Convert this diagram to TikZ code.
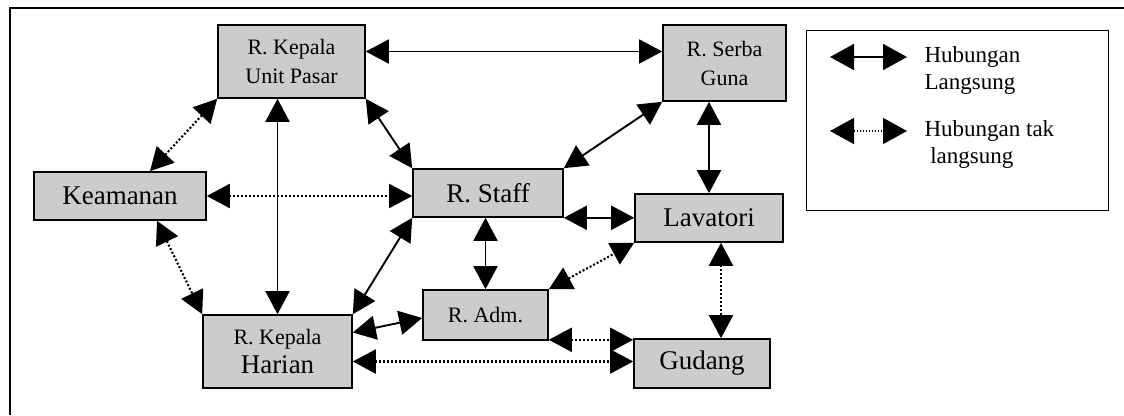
\documentclass[tikz,border=0pt]{standalone}
\usepackage{fontspec}
\setmainfont{Liberation Serif}
\usetikzlibrary{arrows.meta,positioning,calc}

\begin{document}
\begin{tikzpicture}[
  x=1pt, y=-1pt,
  room/.style={draw, line width=1.6pt, fill=black!20, align=center, inner sep=0pt},
  big/.style={font=\fontsize{27}{30}\selectfont},
  small/.style={font=\fontsize{22}{29}\selectfont},
  link/.style={arrows={Triangle[length=23pt,width=24pt]-Triangle[length=23pt,width=24pt]}, line width=1.9pt},
  weak/.style={link, line width=2.1pt, dash pattern=on 2pt off 2pt},
  keylink/.style={arrows={Triangle[length=24pt,width=26pt]-Triangle[length=24pt,width=26pt]}, line width=1.8pt},
  keytext/.style={anchor=west, align=left, font=\fontsize{23}{27}\selectfont}
]
\useasboundingbox (0,0) rectangle (1124,415);

% frame
\draw[line width=1.8pt] (10,415) -- (10,8) -- (1124,8);

% rooms
\node[room, small, minimum width=147pt, minimum height=73pt] (kup) at (291.5,61.5) {R. Kepala\\Unit Pasar};
\node[room, small, minimum width=123pt, minimum height=76pt] (serba) at (724.5,63) {R. Serba\\Guna};
\node[room, big, minimum width=172pt, minimum height=48pt] (keamanan) at (120,196) {Keamanan};
\node[room, big, minimum width=150pt, minimum height=48pt] (staff) at (488,193) {R. Staff};
\node[room, big, minimum width=148pt, minimum height=48pt] (lavatori) at (709,218) {Lavatori};
\node[room, small, minimum width=125pt, minimum height=50pt] (adm) at (485.5,315) {R. Adm.};
\node[room, small, minimum width=149pt, minimum height=73pt] (harian) at (277.5,351.5) {R. Kepala\\{\fontsize{27}{29}\selectfont Harian}};
\node[room, big, minimum width=136pt, minimum height=49pt] (gudang) at (702,363.5) {Gudang};

% direct links
\draw[link] ([yshift=10pt]kup.east) -- ([yshift=10pt]kup.east -| serba.west);
\draw[link] (harian.north |- kup.south) -- (harian.north);
\draw[link] (kup.south east) -- (staff.north west);
\draw[link] (harian.north east) -- (staff.south west);
\draw[link] ([yshift=19pt]harian.east) -- ([yshift=-3pt]adm.west);
\draw[link] (adm.north |- staff.south) -- (adm.north);
\draw[link] (staff.south east) -- (staff.south east -| lavatori.west);
\draw[link] (staff.north east) -- (serba.south west);
\draw[link] (lavatori.north |- serba.south) -- (lavatori.north);

% indirect links
\draw[weak] (kup.south west) -- ([xshift=30pt]keamanan.north);
\draw[weak] (keamanan.east) -- (keamanan.east -| staff.west);
\draw[weak] ([xshift=37pt]keamanan.south) -- (harian.north west);
\draw[weak] ([yshift=-10pt]harian.east) -- ([yshift=-10pt]harian.east -| gudang.west);
\draw[weak] ([yshift=1pt]adm.south east) -- ([yshift=1pt]adm.south east -| gudang.west);
\draw[weak] (adm.north east) -- (lavatori.south west);
\draw[weak] ([xshift=12pt]lavatori.south) -- ([xshift=12pt]lavatori.south |- gudang.north);

% legend
\node[draw, line width=1pt, minimum width=302pt, minimum height=180pt] (legend) at (957,120) {};
\coordinate (solidA) at (830,57);
\coordinate (solidB) at (907,57);
\coordinate (dotA) at (830,131);
\coordinate (dotB) at (907,131);
\draw[keylink] (solidA) -- (solidB);
\draw[keylink, line width=1.4pt, dash pattern=on 1.5pt off 1.5pt] (dotA) -- (dotB);
\node[keytext] (keydirect) at (921,71) {Hubungan\\Langsung};
\node[keytext] (keyindirect) at (921,145) {Hubungan tak\\\ langsung};

\end{tikzpicture}
\end{document}
